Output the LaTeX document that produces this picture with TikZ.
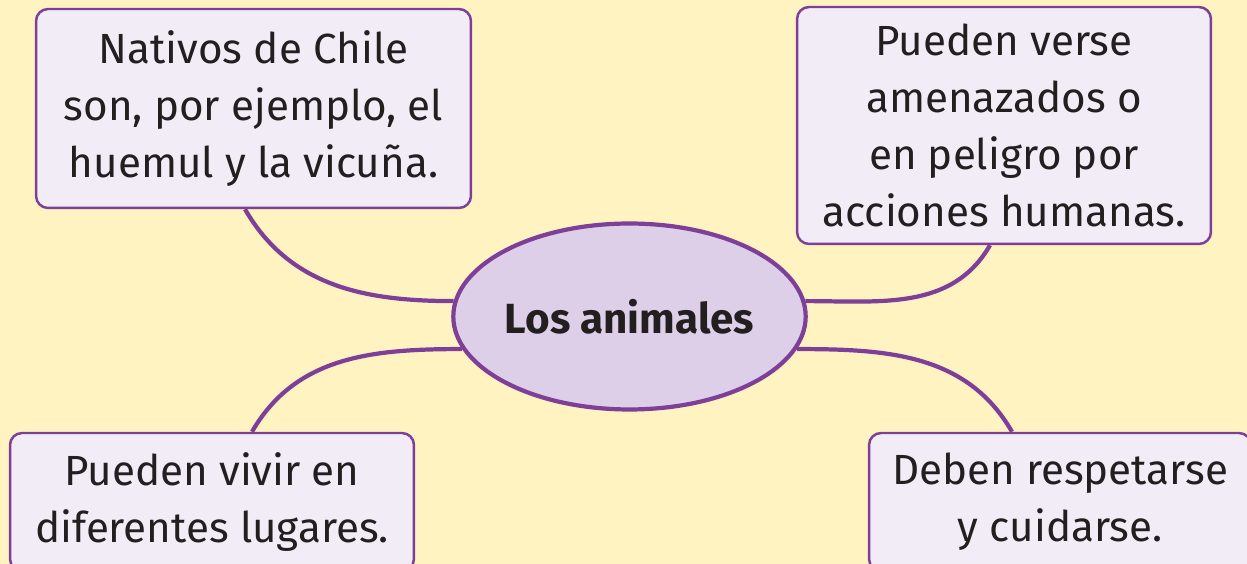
\documentclass[tikz,border=0pt]{standalone}
\usepackage{fontspec}
\setmainfont{Fira Sans}
\usetikzlibrary{shapes, positioning}
\definecolor{fondo}{HTML}{FFF3C1}
\definecolor{morado}{HTML}{7E3F98}
\definecolor{lila}{HTML}{DCCFE7}
\definecolor{lilaclaro}{HTML}{F1ECF6}
\definecolor{tinta}{HTML}{231F20}

\begin{document}
\begin{tikzpicture}[x=0.02cm, y=0.02cm]
    \tikzstyle{every node}=[text=tinta, font=\fontsize{24}{32.5}\selectfont]
    \tikzstyle{idea}=[rectangle, draw=morado, fill=lilaclaro, line width=1.4pt, rounded corners=0.24cm, align=center, inner sep=0pt]
    \tikzstyle{rama}=[draw=morado, line width=2.4pt]
    \clip (0,0) rectangle (1247,564);
    \fill [fondo] (0,0) rectangle (1247,564);
    \node [ellipse, draw=morado, fill=lila, line width=2.4pt, minimum width=6.9cm, minimum height=3.72cm, inner sep=0pt, font=\bfseries\fontsize{24}{32.5}\selectfont] (animales) at (629.5,247.5) {Los animales};
    \node [idea, minimum width=8.7cm, minimum height=3.98cm] (nativos) at (253.5,455.5) {Nativos de Chile\\son, por ejemplo, el\\huemul y la vicuña.};
    \node [idea, minimum width=8.28cm, minimum height=4.74cm] (amenaza) at (1004,438.5) {Pueden verse\\amenazados o\\en peligro por\\acciones humanas.};
    \node [idea, minimum width=8.08cm, minimum height=2.76cm] (lugares) at (212,62) {Pueden vivir en\\diferentes lugares.};
    \node [idea, minimum width=7.64cm, minimum height=2.76cm] (respeto) at (1060,62) {Deben respetarse\\y cuidarse.};
    \draw [rama] ([xshift=-0.17cm]nativos.south) to [out=-60, in=180] (animales.175);
    \draw [rama] ([xshift=-0.28cm]amenaza.south) to [out=-120, in=0] (animales.5);
    \draw [rama] ([xshift=0.8cm]lugares.north) to [out=60, in=180] (animales.191);
    \draw [rama] ([xshift=-0.96cm]respeto.north) to [out=120, in=0] (animales.-11);
\end{tikzpicture}
\end{document}
